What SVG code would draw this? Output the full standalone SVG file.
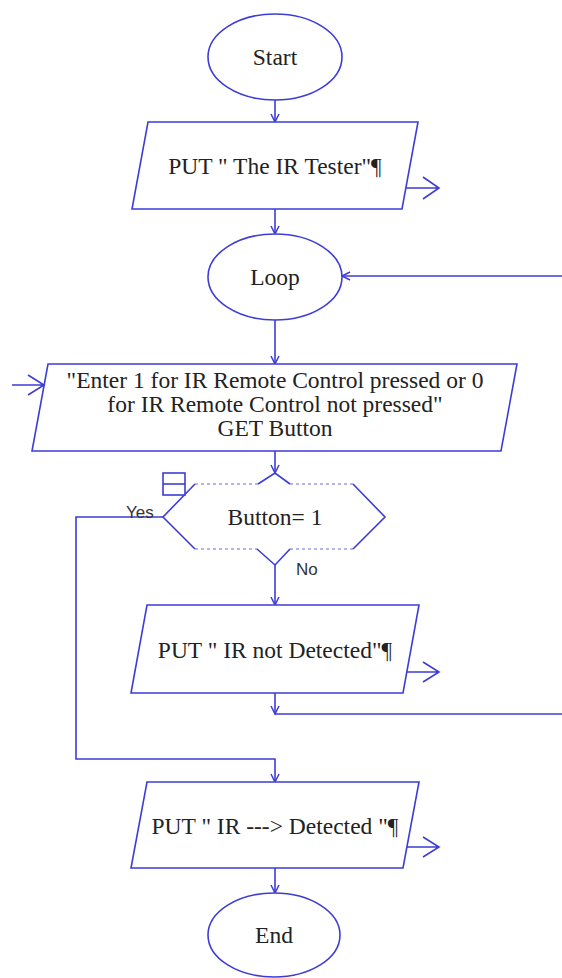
<svg xmlns="http://www.w3.org/2000/svg" width="562" height="978" viewBox="0 0 562 978">
<style>
.s{fill:#fff;stroke:#3d3dd6;stroke-width:1.6}
.c{fill:none;stroke:#3d3dd6;stroke-width:1.6}
.d{fill:none;stroke:#6a6ae0;stroke-width:1.2;stroke-dasharray:3,3}
.t{font-family:"Liberation Serif","Times New Roman",serif;font-size:23.5px;fill:#222;text-anchor:middle}
.l{font-family:"Liberation Sans",Arial,sans-serif;font-size:17px;fill:#333}
</style>
<defs>
<marker id="a" markerUnits="userSpaceOnUse" markerWidth="12" markerHeight="12" refX="8" refY="4" orient="auto" overflow="visible">
<path d="M0,0 L8,4 L0,8" fill="none" stroke="#3d3dd6" stroke-width="1.5"/>
</marker>
</defs>
<rect width="562" height="978" fill="#fff"/>
<g id="connectors">
<path class="c" d="M275,100 V122" marker-end="url(#a)"/>
<path class="c" d="M275,209 V234" marker-end="url(#a)"/>
<path class="c" d="M275,320 V364" marker-end="url(#a)"/>
<path class="c" d="M275,451 V473" marker-end="url(#a)"/>
<path class="c" d="M275,565 V605" marker-end="url(#a)"/>
<path class="c" d="M163,517 H76 V759 H275 V782" marker-end="url(#a)"/>
<path class="c" d="M275,693 V714" marker-end="url(#a)"/>
<path class="c" d="M275,714 H562"/>
<path class="c" d="M562,276 H342" marker-end="url(#a)"/>
<path class="c" d="M275,868 V893" marker-end="url(#a)"/>
</g>
<g id="start">
<ellipse class="s" cx="275" cy="57" rx="67" ry="43"/>
<text class="t" x="275" y="65">Start</text>
</g>
<g id="put-title">
<polygon class="s" points="148,122 418,122 402,209 132,209"/>
<text class="t" x="275" y="174">PUT " The IR Tester"¶</text>
<path class="c" d="M406,188 H439 M423,177 L439,188 L423,199"/>
</g>
<g id="loop">
<ellipse class="s" cx="275" cy="277" rx="67" ry="43"/>
<text class="t" x="275" y="285">Loop</text>
</g>
<g id="get-button">
<polygon class="s" points="48,364 517,364 501,451 32,451"/>
<text class="t" x="275" y="388">"Enter 1 for IR Remote Control pressed or 0</text>
<text class="t" x="275" y="412">for IR Remote Control not pressed"</text>
<text class="t" x="275" y="436">GET Button</text>
<path class="c" d="M12,385 H44 M28,375 L44,385 L28,395"/>
</g>
<g id="decision">
<path class="c" d="M195,484 L163,517 L195,549 M353,484 L385,517 L353,549"/>
<path class="d" d="M195,484 H258 M290,484 H353 M195,549 H257 M290,549 H353"/>
<path class="c" d="M258,484 L275,473 L290,484 M257,549 L275,565 L290,549"/>
<text class="t" x="275" y="525">Button= 1</text>
<rect class="s" x="163" y="473" width="22" height="22"/>
<path class="c" d="M163,484 H185"/>
<text class="l" x="126" y="518">Yes</text>
<text class="l" x="296" y="575">No</text>
</g>
<g id="put-not-detected">
<polygon class="s" points="147,605 419,605 403,693 131,693"/>
<text class="t" x="275" y="658">PUT " IR not Detected"¶</text>
<path class="c" d="M407,672 H439 M423,662 L439,672 L423,682"/>
</g>
<g id="put-detected">
<polygon class="s" points="147,782 419,782 403,868 131,868"/>
<text class="t" x="275" y="834">PUT " IR ---&gt; Detected "¶</text>
<path class="c" d="M407,847 H439 M423,837 L439,847 L423,857"/>
</g>
<g id="end">
<ellipse class="s" cx="274" cy="935" rx="66" ry="42"/>
<text class="t" x="274" y="943">End</text>
</g>
</svg>
